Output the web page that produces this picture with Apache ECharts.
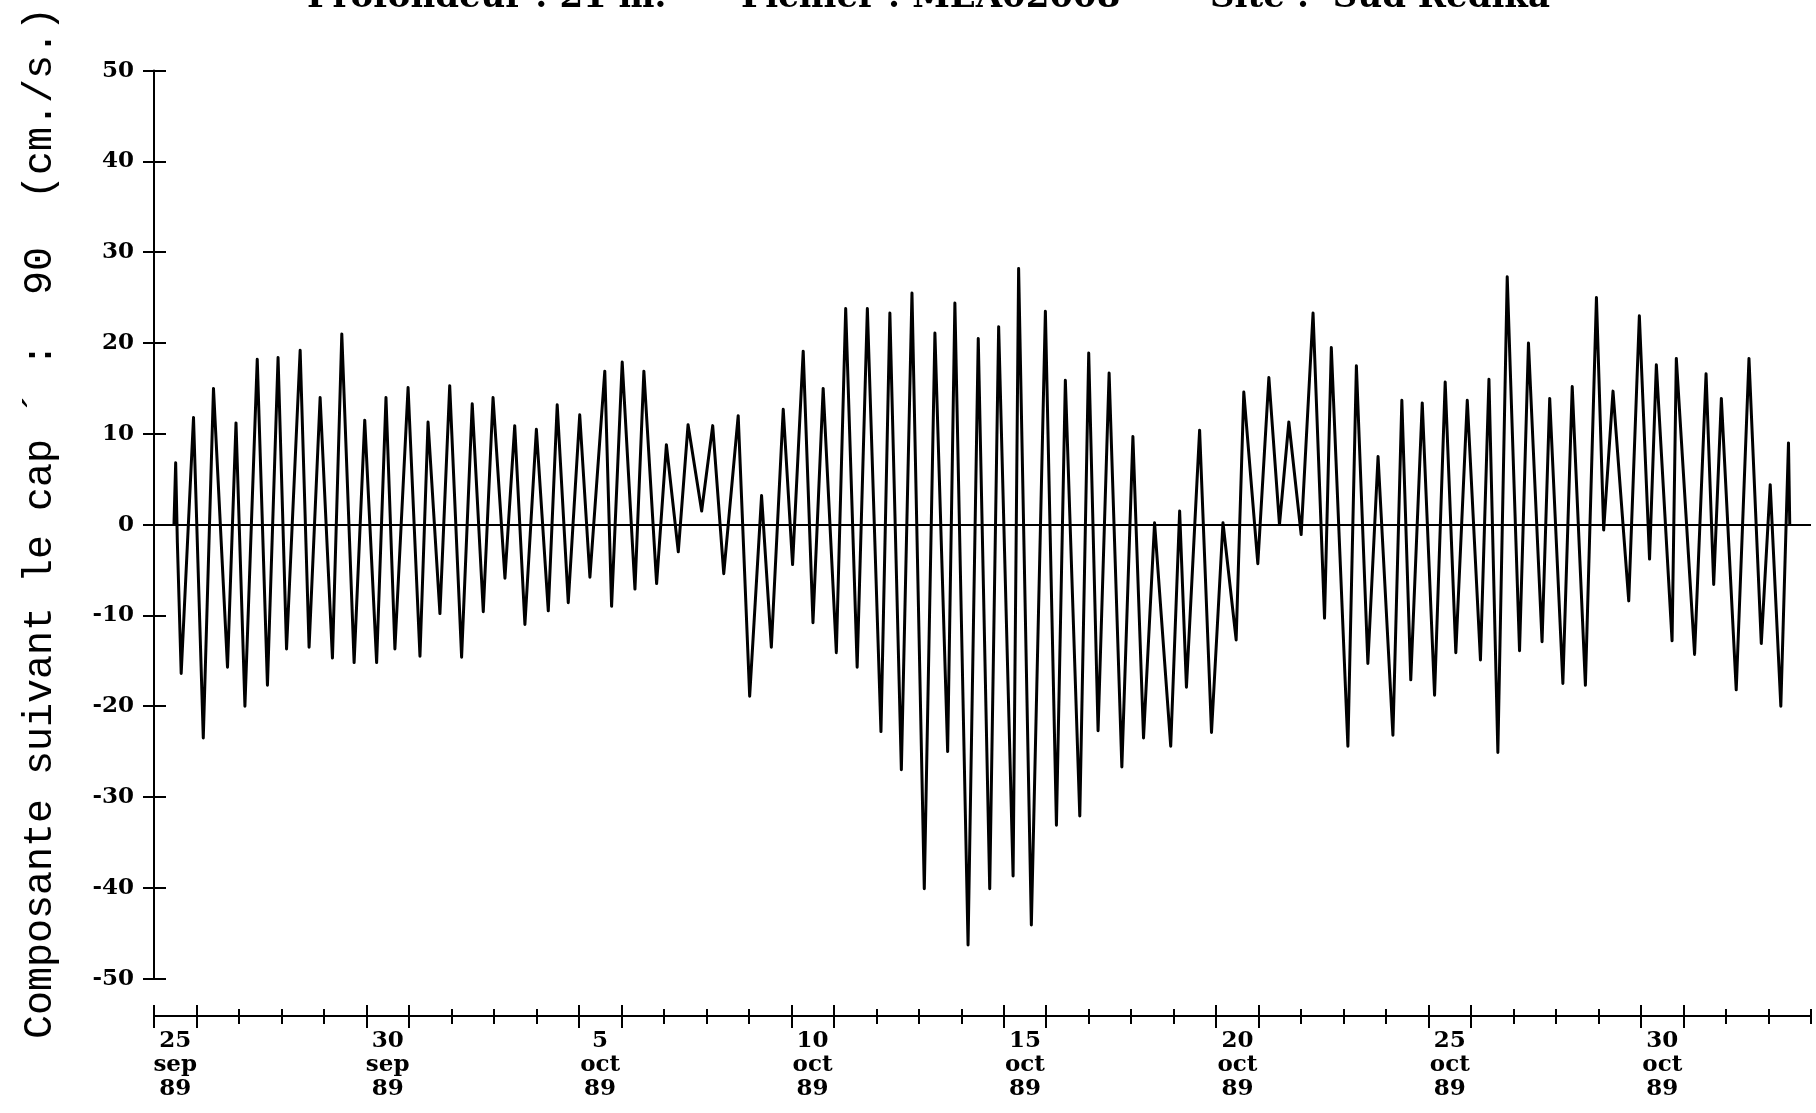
<!DOCTYPE html>
<html>
<head>
<meta charset="utf-8">
<script src="https://cdn.jsdelivr.net/npm/echarts@6/dist/echarts.min.js"></script>
<style>
html,body{margin:0;padding:0;background:#ffffff;}
#chart{width:1816px;height:1113px;}
</style>
</head>
<body>
<div id="chart"></div>
<script>
// time in days since 25 Sep 1989 00:00
const days = [
  0.47,0.51,0.55,0.64,0.93,1.16,1.40,1.73,1.93,2.14,
  2.43,2.67,2.92,3.12,3.44,3.65,3.91,4.20,4.42,4.71,
  4.96,5.24,5.46,5.67,5.98,6.26,6.45,6.73,6.96,7.24,
  7.49,7.75,7.98,8.26,8.49,8.73,9.00,9.28,9.49,9.75,
  10.02,10.26,10.61,10.77,11.02,11.32,11.53,11.83,12.06,12.34,
  12.57,12.89,13.15,13.41,13.75,14.02,14.30,14.53,14.81,15.03,
  15.28,15.51,15.75,16.06,16.28,16.55,16.79,17.11,17.32,17.59,
  17.84,18.13,18.38,18.68,18.85,19.16,19.40,19.67,19.88,20.22,
  20.35,20.65,20.98,21.24,21.45,21.79,22.00,22.22,22.48,22.78,
  23.04,23.29,23.55,23.93,24.14,24.30,24.61,24.89,25.16,25.47,
  25.65,25.98,26.24,26.49,26.71,27.00,27.28,27.55,27.71,28.10,
  28.30,28.57,28.81,29.16,29.37,29.58,29.85,30.14,30.39,30.64,
  30.91,31.22,31.42,31.63,31.85,32.14,32.35,32.67,32.85,33.16,
  33.38,33.69,33.95,34.12,34.34,34.71,34.96,35.20,35.36,35.73,
  35.83,36.26,36.53,36.71,36.89,37.24,37.54,37.83,38.04,38.29,
  38.47,38.50
];
// velocity component along heading 90 (cm/s)
const speed = [
  0,6.8,-2,-16.4,11.8,-23.5,15,-15.7,11.2,-20,
  18.2,-17.7,18.4,-13.7,19.2,-13.5,14,-14.7,21,-15.2,
  11.5,-15.2,14,-13.7,15.1,-14.5,11.3,-9.8,15.3,-14.6,
  13.3,-9.6,14,-5.9,10.9,-11,10.5,-9.5,13.2,-8.6,
  12.1,-5.8,16.9,-9,17.9,-7.1,16.9,-6.5,8.8,-3,
  11,1.5,10.9,-5.4,12,-18.9,3.2,-13.5,12.7,-4.4,
  19.1,-10.8,15,-14.1,23.8,-15.7,23.8,-22.8,23.3,-27,
  25.5,-40.1,21.1,-25,24.4,-46.3,20.5,-40.1,21.8,-38.7,
  28.2,-44.1,23.5,-33.1,15.9,-32.1,18.9,-22.7,16.7,-26.7,
  9.7,-23.5,0.2,-24.4,1.5,-17.9,10.4,-22.9,0.2,-12.7,
  14.6,-4.3,16.2,0,11.3,-1.1,23.3,-10.3,19.5,-24.4,
  17.5,-15.3,7.5,-23.2,13.7,-17.1,13.4,-18.8,15.7,-14.1,
  13.7,-14.9,16,-25.1,27.3,-13.9,20,-12.9,13.9,-17.5,
  15.2,-17.7,25,-0.6,14.7,-8.4,23,-3.8,17.6,-12.8,
  18.3,-14.3,16.6,-6.6,13.9,-18.2,18.3,-13.1,4.4,-20,
  9,0
];
// x tick labels (placed at noon of the labelled day)
const labelPos   = [0.5, 5.5, 10.5, 15.5, 20.5, 25.5, 30.5, 35.5];
const labelDay   = ['25','30','5','10','15','20','25','30'];
const labelMonth = ['sep','sep','oct','oct','oct','oct','oct','oct'];
const labelYear  = ['89','89','89','89','89','89','89','89'];
const majorTicks = [0,1,5,6,10,11,15,16,20,21,25,26,30,31,35,36];

const titleParts = ['Profondeur : 21 m.', 'Fichier : MEA02008', 'Site :  Sud Redika'];
const yTitle = 'Composante suivant le cap ´ :  90  (cm./s.)';

const data = days.map((d, i) => [d, speed[i]]);

const chart = echarts.init(document.getElementById('chart'), null, {renderer: 'canvas', width: 1816, height: 1113});

const labelFont = {fontFamily: '"DejaVu Serif", serif', fontWeight: 'bold', fontSize: 23, color: '#000'};
const xCommon = {
  type: 'value', min: 0, max: 39, interval: 1, position: 'bottom', offset: 37.5, gridIndex: 0,
  splitLine: {show: false}
};

const option = {
  animation: false,
  backgroundColor: '#ffffff',
  grid: {left: 154, right: 5, top: 70.6, bottom: 134.4, containLabel: false},
  xAxis: [
    Object.assign({}, xCommon, {
      axisLine: {show: true, onZero: false, lineStyle: {color: '#000', width: 2}},
      axisTick: {show: true, inside: false, length: 8, lineStyle: {color: '#000', width: 2}},
      axisLabel: Object.assign({}, labelFont, {
        show: true, margin: 13, lineHeight: 24, align: 'center',
        customValues: labelPos,
        formatter: function (v) {
          const i = labelPos.findIndex(p => Math.abs(p - v) < 1e-6);
          return i < 0 ? '' : labelDay[i] + '\n' + labelMonth[i] + '\n' + labelYear[i];
        }
      })
    }),
    Object.assign({}, xCommon, {
      axisLine: {show: false, onZero: false},
      axisTick: {show: true, inside: true, length: 7, lineStyle: {color: '#000', width: 2}},
      axisLabel: {show: false}
    }),
    Object.assign({}, xCommon, {
      axisLine: {show: false, onZero: false},
      axisTick: {show: true, inside: false, length: 12, customValues: majorTicks, lineStyle: {color: '#000', width: 2}},
      axisLabel: {show: false}
    }),
    Object.assign({}, xCommon, {
      axisLine: {show: false, onZero: false},
      axisTick: {show: true, inside: true, length: 11, customValues: majorTicks, lineStyle: {color: '#000', width: 2}},
      axisLabel: {show: false}
    })
  ],
  yAxis: [
    {
      type: 'value', min: -50, max: 50, interval: 10, position: 'left',
      axisLine: {show: true, onZero: false, lineStyle: {color: '#000', width: 2}},
      axisTick: {show: true, inside: false, length: 11, lineStyle: {color: '#000', width: 2}},
      axisLabel: Object.assign({}, labelFont, {margin: 20}),
      splitLine: {show: false}
    },
    {
      type: 'value', min: -50, max: 50, interval: 10, position: 'left',
      axisLine: {show: false, onZero: false},
      axisTick: {show: true, inside: true, length: 12, lineStyle: {color: '#000', width: 2}},
      axisLabel: {show: false},
      splitLine: {show: false}
    }
  ],
  series: [{
    type: 'line',
    xAxisIndex: 0,
    yAxisIndex: 0,
    data: data,
    showSymbol: false,
    symbol: 'none',
    sampling: null,
    lineStyle: {color: '#000', width: 3, join: 'round'},
    z: 3,
    markLine: {
      silent: true,
      symbol: ['none', 'none'],
      label: {show: false},
      lineStyle: {color: '#000', width: 2, type: 'solid'},
      data: [{yAxis: 0}]
    }
  }],
  graphic: [
    {type: 'text', x: 307, y: -2, style: {text: titleParts[0], font: 'bold 34px "DejaVu Serif"', fill: '#000', align: 'left', verticalAlign: 'middle'}},
    {type: 'text', x: 741, y: -2, style: {text: titleParts[1], font: 'bold 34px "DejaVu Serif"', fill: '#000', align: 'left', verticalAlign: 'middle'}},
    {type: 'text', x: 1210, y: -2, style: {text: titleParts[2], font: 'bold 34px "DejaVu Serif"', fill: '#000', align: 'left', verticalAlign: 'middle'}},
    {type: 'text', x: 40, y: 523, rotation: Math.PI / 2,
     style: {text: yTitle, font: '40px "Liberation Mono"', fill: '#000', align: 'center', verticalAlign: 'middle'}}
  ]
};
chart.setOption(option);
</script>
</body>
</html>
